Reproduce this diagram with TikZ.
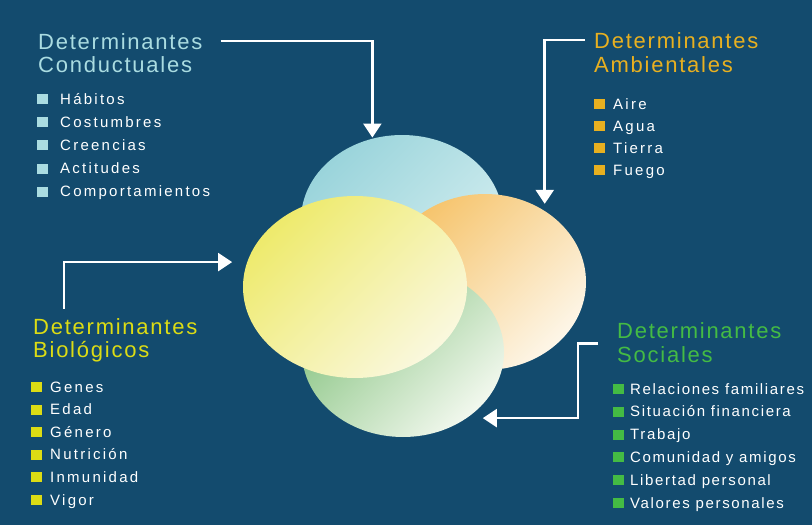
\documentclass[tikz,border=0pt]{standalone}
\usepackage{fontspec}
\setmainfont{Liberation Sans}
\newfontfamily\titlefont[LetterSpace=8]{Liberation Sans}
\newfontfamily\itemfont[LetterSpace=15]{Liberation Sans}
\newfontfamily\socfont[LetterSpace=11]{Liberation Sans}
\usetikzlibrary{positioning}
\usetikzlibrary{shapes.geometric}
\usetikzlibrary{arrows.meta}

\definecolor{fondo}{HTML}{134B6E}
\definecolor{condc}{HTML}{AADCE1}
\definecolor{ambc}{HTML}{E8B020}
\definecolor{bioc}{HTML}{DCDC14}
\definecolor{socc}{HTML}{44BB44}
\definecolor{azulA}{HTML}{9AD4DB}
\definecolor{azulB}{HTML}{D6EFF1}
\definecolor{narA}{HTML}{F6C46C}
\definecolor{narB}{HTML}{FDF6E8}
\definecolor{verA}{HTML}{84C27E}
\definecolor{verB}{HTML}{F2F8EE}
\definecolor{amaA}{HTML}{EEEA6C}
\definecolor{amaB}{HTML}{FAF8DE}

\newcommand{\cuadro}[1]{\textcolor{#1}{\rule{11pt}{10pt}}}

\tikzset{
	titulo/.style={anchor=base west, inner sep=0pt, font=\titlefont\fontsize{22}{26}\selectfont},
	elemento/.style={anchor=base west, inner sep=0pt, text=white, font=\itemfont\fontsize{15}{18}\selectfont},
	flecha/.style={draw=white, line width=2.5pt, -{Triangle[width=18pt,length=14pt]}},
	ovalo/.style={ellipse, inner sep=0pt}
}

\begin{document}
\begin{tikzpicture}[x=1pt, y=-1pt]
		\useasboundingbox (0,0) rectangle (812,525);
		\fill[fondo] (0,0) rectangle (812,525);
		\node[ovalo, minimum width=202pt, minimum height=170pt, top color=azulA, bottom color=azulB, shading angle=45] (azul) at (402,220) {};
		\node[ovalo, minimum width=202pt, minimum height=176pt, top color=narA, bottom color=narB, shading angle=45] (naranja) at (485,282) {};
		\node[ovalo, minimum width=202pt, minimum height=170pt, top color=verA, bottom color=verB, shading angle=45] (verde) at (403,352) {};
		\node[ovalo, minimum width=224pt, minimum height=182pt, top color=amaA, bottom color=amaB, shading angle=45] (amarillo) at (355,287) {};

		\node[titulo, text=condc] (condT1) at (38,49) {Determinantes};
		\node[titulo, text=condc] (condT2) at (38,72) {Conductuales};
		\foreach \txt [count=\i] in {Hábitos, Costumbres, Creencias, Actitudes, Comportamientos} {
			\node[elemento] (cond\i) at (37,{104+23.2*(\i-1)}) {\cuadro{condc}\hspace{12pt}\txt};
		}

		\node[titulo, text=ambc] (ambT1) at (594,48) {Determinantes};
		\node[titulo, text=ambc] (ambT2) at (594,72) {Ambientales};
		\foreach \txt [count=\i] in {Aire, Agua, Tierra, Fuego} {
			\node[elemento] (amb\i) at (594,{109+22*(\i-1)}) {\cuadro{ambc}\hspace{8pt}\txt};
		}

		\node[titulo, text=bioc] (bioT1) at (33,334) {Determinantes};
		\node[titulo, text=bioc] (bioT2) at (33,357) {Biológicos};
		\foreach \txt [count=\i] in {Genes, Edad, Género, Nutrición, Inmunidad, Vigor} {
			\node[elemento] (bio\i) at (31,{392+22.6*(\i-1)}) {\cuadro{bioc}\hspace{8pt}\txt};
		}

		\node[titulo, text=socc] (socT1) at (617,338) {Determinantes};
		\node[titulo, text=socc] (socT2) at (617,362) {Sociales};
		\foreach \txt [count=\i] in {Relaciones familiares, Situación financiera, Trabajo, Comunidad y amigos, Libertad personal, Valores personales} {
			\node[elemento, font=\socfont\fontsize{15}{18}\selectfont] (soc\i) at (613,{394+22.8*(\i-1)}) {\cuadro{socc}\hspace{6pt}\txt};
		}

		\draw[flecha, shorten <=18pt, shorten >=1pt] (condT1.east) -| (azul.110);
		\draw[flecha, shorten <=9pt, shorten >=7pt] (ambT1.west) -| (naranja.50);
		\draw[flecha, shorten >=15pt] ([xshift=31pt, yshift=9pt]bioT1.north west) |- (amarillo.167);
		\draw[flecha, shorten >=16pt] ([xshift=-19pt, yshift=-5pt]socT1.south west) -- ++(-20,0) |- (verde.-46);
	\end{tikzpicture}
\end{document}
